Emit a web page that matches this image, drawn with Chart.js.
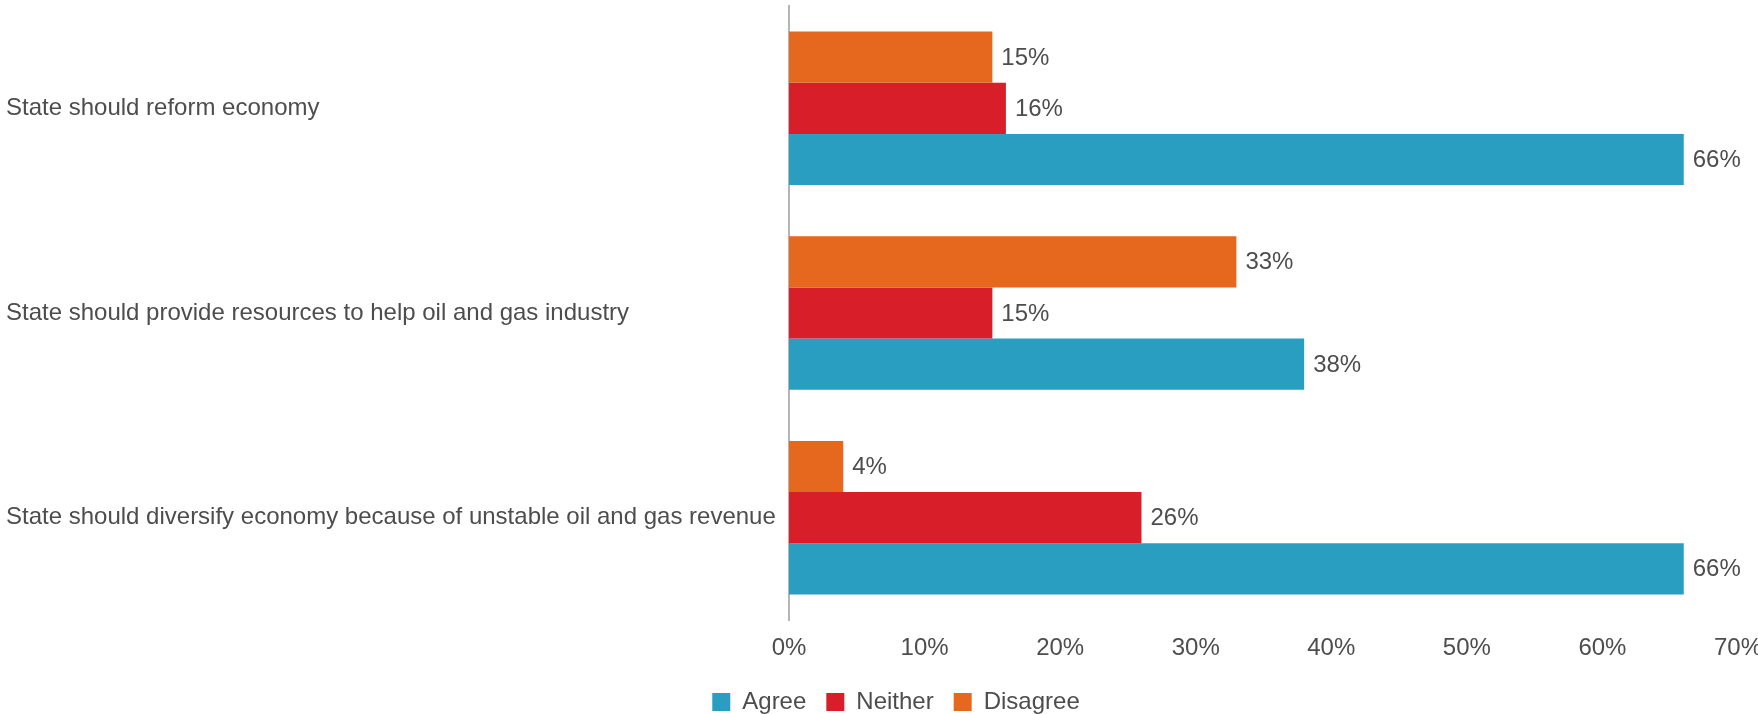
<!DOCTYPE html>
<html>
<head>
<meta charset="utf-8">
<script src="https://cdn.jsdelivr.net/npm/chart.js@4"></script>
<style>
  html, body { margin: 0; padding: 0; background: #fff; }
  #wrap { width: 1758px; height: 714px; }
</style>
</head>
<body>
<div id="wrap"><canvas id="oilChart"></canvas></div>
<script>
const categories = [
    "State should reform economy",
    "State should provide resources to help oil and gas industry",
    "State should diversify economy because of unstable oil and gas revenue"
];
const agree = [66, 38, 66];
const neither = [16, 15, 26];
const disagree = [15, 33, 4];
const xTicks = [0, 10, 20, 30, 40, 50, 60, 70];

const colors = { agree: '#2a9ec0', neither: '#d81f29', disagree: '#e6671e' };
const textColor = '#4d4d4d';
const font = { family: '"Liberation Sans", Arial, sans-serif', size: 24 };

// value labels to the right of each bar
const barLabels = {
    id: 'barLabels',
    afterDatasetsDraw(chart) {
        const ctx = chart.ctx;
        ctx.save();
        ctx.font = `${font.size}px ${font.family}`;
        ctx.fillStyle = textColor;
        ctx.textAlign = 'left';
        ctx.textBaseline = 'middle';
        chart.data.datasets.forEach((ds, i) => {
            chart.getDatasetMeta(i).data.forEach((bar, j) => {
                ctx.fillText(ds.data[j] + '%', bar.x + 9, bar.y + 1);
            });
        });
        ctx.restore();
    }
};

// nudge the legend a little to the right
const legendShift = {
    id: 'legendShift',
    afterLayout(chart) {
        chart.legend.left += 24;
        chart.legend.right += 24;
    }
};

const ctx = document.getElementById('oilChart').getContext('2d');
new Chart(ctx, {
    type: 'bar',
    data: {
        labels: categories,
        datasets: [
            { label: 'Disagree', data: disagree, backgroundColor: colors.disagree },
            { label: 'Neither', data: neither, backgroundColor: colors.neither },
            { label: 'Agree', data: agree, backgroundColor: colors.agree }
        ]
    },
    options: {
        indexAxis: 'y',
        responsive: true,
        maintainAspectRatio: false,
        animation: false,
        layout: { padding: { left: 6, right: 20, top: 6, bottom: 0 } },
        datasets: { bar: { categoryPercentage: 0.75, barPercentage: 1 } },
        scales: {
            x: {
                min: 0,
                max: 70,
                grid: { display: false, drawTicks: false },
                border: { display: false },
                afterBuildTicks(scale) {
                    scale.ticks = xTicks.map(v => ({ value: v }));
                },
                ticks: {
                    font: font,
                    color: textColor,
                    padding: 14,
                    callback: v => v + '%'
                },
                afterFit(scale) {
                    scale.height = 50;
                    scale.paddingLeft = 0;
                    scale.paddingRight = 0;
                }
            },
            y: {
                grid: { display: false, drawTicks: false },
                border: { display: true, color: '#b5b5b5', width: 2 },
                ticks: {
                    font: font,
                    color: textColor,
                    crossAlign: 'far'
                },
                afterFit(scale) {
                    scale.width = 783;
                    scale.paddingTop = 0;
                    scale.paddingBottom = 0;
                }
            }
        },
        plugins: {
            legend: {
                position: 'bottom',
                reverse: true,
                maxHeight: 44,
                labels: {
                    font: font,
                    color: textColor,
                    boxWidth: 18,
                    boxHeight: 18,
                    padding: 20
                }
            },
            tooltip: { enabled: false }
        }
    },
    plugins: [barLabels, legendShift]
});
</script>
</body>
</html>
